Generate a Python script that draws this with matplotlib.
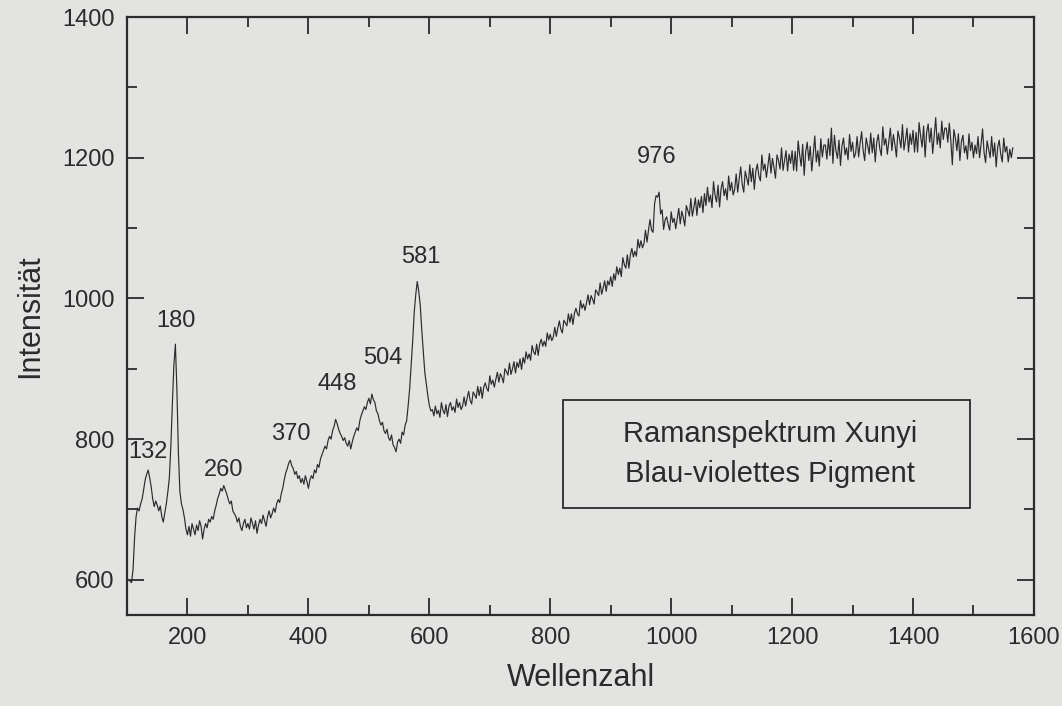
import numpy as np
import matplotlib
matplotlib.use("Agg")
import matplotlib.pyplot as plt
from matplotlib.patches import Rectangle

plt.rcParams['font.family'] = ['Liberation Sans', 'DejaVu Sans']

# Raman spectrum, every 2.5 cm-1 (one row = 50 cm-1)
wavenumber = np.arange(105, 1566, 2.5)
intensity = np.array([
    598, 596, 615, 660, 690, 702, 698, 708, 715, 728, 742, 750, 756, 745, 732, 715, 704, 712, 706, 698,
    705, 690, 682, 695, 708, 725, 745, 790, 850, 905, 935, 870, 780, 725, 708, 700, 688, 672, 664, 676,
    662, 680, 672, 664, 678, 670, 684, 676, 658, 672, 680, 674, 686, 682, 690, 686, 698, 706, 716, 722,
    730, 726, 734, 728, 722, 714, 708, 712, 698, 694, 690, 682, 688, 676, 670, 680, 686, 674, 680, 672,
    688, 680, 672, 684, 666, 678, 686, 680, 692, 684, 676, 690, 698, 688, 694, 702, 696, 708, 714, 710,
    722, 730, 742, 752, 758, 766, 770, 762, 758, 750, 754, 744, 748, 738, 744, 736, 748, 740, 730, 742,
    748, 744, 756, 752, 764, 760, 772, 778, 784, 790, 786, 798, 804, 800, 812, 818, 828, 822, 814, 808,
    804, 798, 802, 794, 790, 798, 786, 796, 804, 810, 816, 812, 826, 834, 840, 846, 842, 852, 858, 850,
    864, 856, 852, 840, 836, 826, 820, 824, 812, 808, 814, 802, 798, 806, 792, 788, 782, 796, 800, 794,
    810, 806, 820, 826, 848, 872, 905, 940, 980, 1005, 1024, 1010, 990, 955, 925, 895, 878, 862, 848, 840,
    842, 833, 847, 836, 841, 831, 852, 841, 836, 849, 832, 847, 852, 841, 846, 838, 857, 845, 852, 842,
    847, 860, 847, 858, 868, 855, 850, 867, 863, 858, 875, 862, 874, 858, 874, 880, 872, 868, 890, 878,
    884, 874, 885, 895, 881, 893, 888, 880, 900, 896, 891, 908, 892, 900, 910, 894, 909, 902, 914, 899,
    916, 908, 924, 914, 921, 912, 933, 924, 920, 935, 919, 935, 942, 932, 939, 932, 951, 941, 949, 940,
    945, 959, 946, 958, 968, 956, 951, 969, 965, 961, 978, 966, 978, 963, 979, 986, 978, 975, 997, 986,
    992, 983, 994, 1005, 991, 1004, 999, 992, 1012, 1009, 1004, 1022, 1006, 1015, 1025, 1010, 1025, 1019, 1031, 1017,
    1035, 1026, 1045, 1034, 1043, 1031, 1058, 1048, 1043, 1062, 1043, 1062, 1071, 1059, 1067, 1060, 1084, 1072, 1082, 1072,
    1078, 1097, 1080, 1097, 1112, 1097, 1094, 1134, 1146, 1144, 1151, 1120, 1126, 1098, 1112, 1116, 1105, 1097, 1123, 1108,
    1114, 1099, 1114, 1128, 1106, 1124, 1115, 1103, 1132, 1125, 1117, 1142, 1117, 1129, 1143, 1118, 1140, 1129, 1145, 1122,
    1149, 1132, 1158, 1137, 1147, 1129, 1166, 1147, 1137, 1161, 1130, 1156, 1166, 1146, 1156, 1140, 1174, 1153, 1165, 1147,
    1155, 1177, 1151, 1170, 1187, 1162, 1151, 1181, 1171, 1161, 1190, 1166, 1185, 1155, 1181, 1191, 1174, 1167, 1204, 1182,
    1191, 1172, 1189, 1206, 1178, 1199, 1186, 1171, 1204, 1196, 1184, 1214, 1182, 1196, 1210, 1181, 1205, 1192, 1210, 1182,
    1209, 1181, 1224, 1204, 1188, 1219, 1175, 1209, 1222, 1196, 1216, 1181, 1205, 1231, 1194, 1210, 1188, 1227, 1201, 1218,
    1218, 1198, 1227, 1203, 1242, 1192, 1232, 1210, 1199, 1225, 1189, 1217, 1228, 1204, 1214, 1197, 1233, 1209, 1222, 1200,
    1206, 1230, 1201, 1221, 1237, 1210, 1196, 1228, 1217, 1205, 1235, 1207, 1228, 1194, 1222, 1233, 1213, 1203, 1244, 1218,
    1227, 1205, 1224, 1242, 1210, 1233, 1219, 1201, 1238, 1228, 1214, 1247, 1211, 1225, 1242, 1208, 1234, 1219, 1239, 1208,
    1236, 1208, 1250, 1231, 1215, 1245, 1201, 1236, 1248, 1222, 1242, 1206, 1231, 1257, 1219, 1235, 1214, 1252, 1226, 1242,
    1242, 1222, 1249, 1224, 1190, 1240, 1228, 1210, 1234, 1196, 1223, 1232, 1207, 1217, 1198, 1234, 1210, 1222, 1200, 1218,
    1206, 1230, 1200, 1219, 1241, 1207, 1193, 1224, 1212, 1200, 1230, 1202, 1221, 1187, 1215, 1225, 1205, 1194, 1228, 1208,
    1216, 1194, 1212, 1200, 1214,
])

# peak labels and where the text sits
peaks = [132, 180, 260, 370, 448, 504, 581, 976]
label_x = [135, 181, 260, 371, 447, 523, 586, 976]
label_y = [782, 968, 756, 807, 878, 915, 1059, 1201]

bg = '#e3e3e1'
ink = '#2b2b2b'

fig = plt.figure(figsize=(10.62, 7.06), dpi=100, facecolor=bg)
ax = fig.add_axes([0.1196, 0.1289, 0.854, 0.847])
ax.set_facecolor(bg)

ax.plot(wavenumber, intensity, color=ink, linewidth=0.85)

for p, lx, ly in zip(peaks, label_x, label_y):
    ax.text(lx, ly, str(p), ha='center', va='center', fontsize=17, color=ink)

ax.set_xlim(100, 1600)
ax.set_ylim(550, 1400)
ax.set_xticks(np.arange(200, 1601, 200))
ax.set_xticks(np.arange(300, 1600, 200), minor=True)
ax.set_yticks(np.arange(600, 1401, 200))
ax.set_yticks(np.arange(700, 1400, 200), minor=True)

ax.tick_params(which='both', direction='in', top=True, right=True,
               color=ink, width=1.3, labelsize=17, labelcolor=ink, pad=9)
ax.tick_params(which='major', length=12)
ax.tick_params(which='minor', length=7)
for s in ax.spines.values():
    s.set_linewidth(1.6)
    s.set_color(ink)

ax.set_xlabel('Wellenzahl', fontsize=22, color=ink, labelpad=10)
ax.set_ylabel('Intensität', fontsize=22, color=ink, labelpad=12)

# caption box
ax.add_patch(Rectangle((0.4807, 0.1789), 0.4487, 0.1806, transform=ax.transAxes,
                       fill=False, edgecolor=ink, linewidth=1.3))
ax.text(0.709, 0.3027, 'Ramanspektrum Xunyi', transform=ax.transAxes,
        ha='center', va='center', fontsize=21, color=ink)
ax.text(0.709, 0.2358, 'Blau-violettes Pigment', transform=ax.transAxes,
        ha='center', va='center', fontsize=21, color=ink)

fig.savefig('out.png', dpi=100, facecolor=bg)
